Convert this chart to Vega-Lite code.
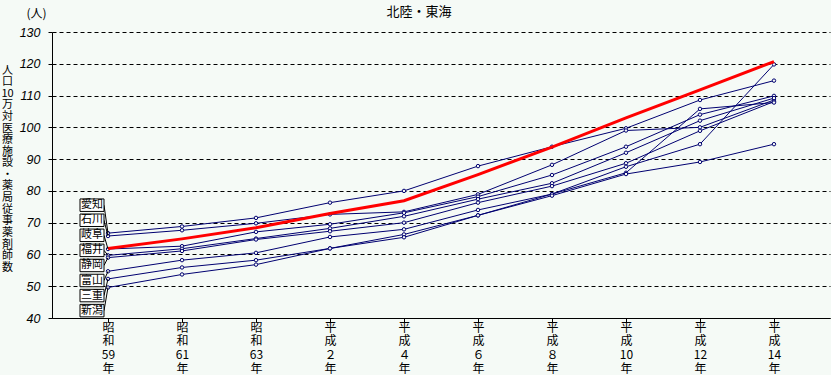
{
  "$schema": "https://vega.github.io/schema/vega-lite/v6.json",
  "width": 778,
  "height": 286,
  "autosize": {"type": "none"},
  "padding": {"left": 52, "top": 32, "right": 1, "bottom": 57},
  "background": "#f5faf6",
  "title": {"text": "北陸・東海", "font": "Noto Sans CJK JP", "fontSize": 13, "fontWeight": "normal", "color": "#000000", "anchor": "middle", "frame": "group", "dx": -22, "dy": 16, "offset": 4},
  "config": {
    "view": {"stroke": null},
    "axis": {"labelColor": "#000000", "titleColor": "#000000", "domainColor": "#000000", "tickColor": "#000000", "titleFontWeight": "normal"}
  },
  "data": {"values": [
    {"series": "愛知", "year": "昭和59年", "value": 66.7}, {"series": "愛知", "year": "昭和61年", "value": 68.8}, {"series": "愛知", "year": "昭和63年", "value": 71.5}, {"series": "愛知", "year": "平成２年", "value": 76.3}, {"series": "愛知", "year": "平成４年", "value": 80.0}, {"series": "愛知", "year": "平成６年", "value": 87.8}, {"series": "愛知", "year": "平成８年", "value": 93.9}, {"series": "愛知", "year": "平成10年", "value": 99.7}, {"series": "愛知", "year": "平成12年", "value": 108.6}, {"series": "愛知", "year": "平成14年", "value": 114.7},
    {"series": "石川", "year": "昭和59年", "value": 65.8}, {"series": "石川", "year": "昭和61年", "value": 67.6}, {"series": "石川", "year": "昭和63年", "value": 69.8}, {"series": "石川", "year": "平成２年", "value": 72.6}, {"series": "石川", "year": "平成４年", "value": 73.4}, {"series": "石川", "year": "平成６年", "value": 78.9}, {"series": "石川", "year": "平成８年", "value": 88.2}, {"series": "石川", "year": "平成10年", "value": 99.0}, {"series": "石川", "year": "平成12年", "value": 100.0}, {"series": "石川", "year": "平成14年", "value": 108.6},
    {"series": "岐阜", "year": "昭和59年", "value": 61.7}, {"series": "岐阜", "year": "昭和61年", "value": 62.6}, {"series": "岐阜", "year": "昭和63年", "value": 67.1}, {"series": "岐阜", "year": "平成２年", "value": 69.5}, {"series": "岐阜", "year": "平成４年", "value": 73.1}, {"series": "岐阜", "year": "平成６年", "value": 78.2}, {"series": "岐阜", "year": "平成８年", "value": 85.0}, {"series": "岐阜", "year": "平成10年", "value": 93.9}, {"series": "岐阜", "year": "平成12年", "value": 104.0}, {"series": "岐阜", "year": "平成14年", "value": 109.9},
    {"series": "福井", "year": "昭和59年", "value": 59.7}, {"series": "福井", "year": "昭和61年", "value": 61.8}, {"series": "福井", "year": "昭和63年", "value": 65.0}, {"series": "福井", "year": "平成２年", "value": 68.2}, {"series": "福井", "year": "平成４年", "value": 72.0}, {"series": "福井", "year": "平成６年", "value": 77.4}, {"series": "福井", "year": "平成８年", "value": 82.4}, {"series": "福井", "year": "平成10年", "value": 92.0}, {"series": "福井", "year": "平成12年", "value": 102.1}, {"series": "福井", "year": "平成14年", "value": 109.2},
    {"series": "静岡", "year": "昭和59年", "value": 59.0}, {"series": "静岡", "year": "昭和61年", "value": 61.1}, {"series": "静岡", "year": "昭和63年", "value": 64.7}, {"series": "静岡", "year": "平成２年", "value": 67.3}, {"series": "静岡", "year": "平成４年", "value": 70.0}, {"series": "静岡", "year": "平成６年", "value": 76.3}, {"series": "静岡", "year": "平成８年", "value": 81.5}, {"series": "静岡", "year": "平成10年", "value": 88.7}, {"series": "静岡", "year": "平成12年", "value": 98.9}, {"series": "静岡", "year": "平成14年", "value": 108.1},
    {"series": "富山", "year": "昭和59年", "value": 54.7}, {"series": "富山", "year": "昭和61年", "value": 58.2}, {"series": "富山", "year": "昭和63年", "value": 60.5}, {"series": "富山", "year": "平成２年", "value": 65.5}, {"series": "富山", "year": "平成４年", "value": 67.9}, {"series": "富山", "year": "平成６年", "value": 74.0}, {"series": "富山", "year": "平成８年", "value": 79.0}, {"series": "富山", "year": "平成10年", "value": 87.6}, {"series": "富山", "year": "平成12年", "value": 94.7}, {"series": "富山", "year": "平成14年", "value": 119.8},
    {"series": "三重", "year": "昭和59年", "value": 52.3}, {"series": "三重", "year": "昭和61年", "value": 55.9}, {"series": "三重", "year": "昭和63年", "value": 58.2}, {"series": "三重", "year": "平成２年", "value": 61.9}, {"series": "三重", "year": "平成４年", "value": 66.3}, {"series": "三重", "year": "平成６年", "value": 72.3}, {"series": "三重", "year": "平成８年", "value": 79.0}, {"series": "三重", "year": "平成10年", "value": 85.7}, {"series": "三重", "year": "平成12年", "value": 105.8}, {"series": "三重", "year": "平成14年", "value": 107.8},
    {"series": "新潟", "year": "昭和59年", "value": 49.6}, {"series": "新潟", "year": "昭和61年", "value": 53.7}, {"series": "新潟", "year": "昭和63年", "value": 56.8}, {"series": "新潟", "year": "平成２年", "value": 61.9}, {"series": "新潟", "year": "平成４年", "value": 65.4}, {"series": "新潟", "year": "平成６年", "value": 72.3}, {"series": "新潟", "year": "平成８年", "value": 78.5}, {"series": "新潟", "year": "平成10年", "value": 85.3}, {"series": "新潟", "year": "平成12年", "value": 89.1}, {"series": "新潟", "year": "平成14年", "value": 94.7},
    {"series": "全国", "year": "昭和59年", "value": 61.9}, {"series": "全国", "year": "昭和61年", "value": 64.9}, {"series": "全国", "year": "昭和63年", "value": 68.4}, {"series": "全国", "year": "平成２年", "value": 72.9}, {"series": "全国", "year": "平成４年", "value": 76.9}, {"series": "全国", "year": "平成６年", "value": 85.1}, {"series": "全国", "year": "平成８年", "value": 93.8}, {"series": "全国", "year": "平成10年", "value": 103.0}, {"series": "全国", "year": "平成12年", "value": 111.8}, {"series": "全国", "year": "平成14年", "value": 120.7}
  ]},
  "resolve": {"axis": {"x": "independent", "y": "independent"}},
  "layer": [
    {
      "transform": [{"filter": "datum.series !== '全国'"}],
      "mark": {"type": "line", "color": "#000070", "strokeWidth": 1},
      "encoding": {
        "x": {"field": "year", "type": "ordinal", "sort": null,
              "scale": {"type": "point", "padding": 0.757},
              "axis": {"orient": "bottom", "title": null, "labelAngle": 0, "grid": false, "tickSize": 4,
                       "labelFont": "Noto Sans CJK JP", "labelFontSize": 12, "labelLineHeight": 13.7,
                       "labelBaseline": "top", "labelPadding": 0,
                       "labelExpr": "[slice(datum.label,0,1), slice(datum.label,1,2), slice(datum.label,2,-1), slice(datum.label,-1)]"}},
        "y": {"field": "value", "type": "quantitative",
              "scale": {"domain": [40, 130], "nice": false, "zero": false},
              "axis": {"values": [40, 50, 60, 70, 80, 90, 100, 110, 120, 130], "grid": true, "gridColor": "#000000", "gridOpacity": 1, "gridDash": [4, 3], "gridWidth": 1,
                       "tickSize": 4, "labelPadding": 8, "labelFont": "Liberation Sans", "labelFontStyle": "italic", "labelFontSize": 12.5,
                       "title": ["人", "口", "10", "万", "対", "医", "療", "施", "設", "・", "薬", "局", "従", "事", "薬", "剤", "師", "数"],
                       "titleAngle": 0, "titleX": -45, "titleY": 38, "titleAlign": "center", "titleBaseline": "middle",
                       "titleFont": "Noto Sans CJK JP", "titleFontSize": 11, "titleLineHeight": 11.6}},
        "detail": {"field": "series"}
      }
    },
    {
      "transform": [{"filter": "datum.series !== '全国'"}],
      "mark": {"type": "point", "filled": true, "fill": "#f5faf6", "stroke": "#000070", "strokeWidth": 1, "size": 12, "opacity": 1},
      "encoding": {
        "x": {"field": "year", "type": "ordinal", "sort": null, "axis": null},
        "y": {"field": "value", "type": "quantitative", "axis": null},
        "detail": {"field": "series"}
      }
    },
    {
      "transform": [{"filter": "datum.series === '全国'"}],
      "mark": {"type": "line", "color": "#ff0000", "strokeWidth": 3},
      "encoding": {
        "x": {"field": "year", "type": "ordinal", "sort": null,
              "axis": {"orient": "top", "labels": false, "ticks": false, "domain": false, "grid": false,
                       "title": "(人)", "titleAngle": 0, "titleX": -16, "titleY": -19, "titleAlign": "center", "titleBaseline": "middle",
                       "titleFont": "Noto Sans CJK JP", "titleFontSize": 12}},
        "y": {"field": "value", "type": "quantitative", "axis": null}
      }
    },
    {
      "transform": [
        {"filter": "datum.series !== '全国' && datum.year === '昭和59年'"},
        {"window": [{"op": "row_number", "as": "rank"}], "sort": [{"field": "value", "order": "descending"}]},
        {"calculate": "75.5 - (datum.rank - 1) * 4.74", "as": "ly"}
      ],
      "layer": [
        {
          "mark": {"type": "rule", "color": "#000000", "strokeWidth": 1, "xOffset": -4},
          "encoding": {
            "x": {"datum": "昭和59年", "axis": null},
            "x2": {"datum": "昭和59年"},
            "y": {"field": "ly", "type": "quantitative", "axis": null},
            "y2": {"field": "value"}
          }
        },
        {
          "mark": {"type": "point", "shape": "M-1,-0.52H1V0.52H-1Z", "size": 576, "filled": true, "fill": "#ffffff", "stroke": "#000000", "strokeWidth": 1, "opacity": 1, "xOffset": -16},
          "encoding": {
            "x": {"datum": "昭和59年", "axis": null},
            "y": {"field": "ly", "type": "quantitative", "axis": null}
          }
        },
        {
          "mark": {"type": "text", "font": "Noto Sans CJK JP", "fontSize": 11, "color": "#000000", "dx": -16, "align": "center", "baseline": "middle"},
          "encoding": {
            "x": {"datum": "昭和59年", "axis": null},
            "y": {"field": "ly", "type": "quantitative", "axis": null},
            "text": {"field": "series"}
          }
        }
      ]
    }
  ]
}
